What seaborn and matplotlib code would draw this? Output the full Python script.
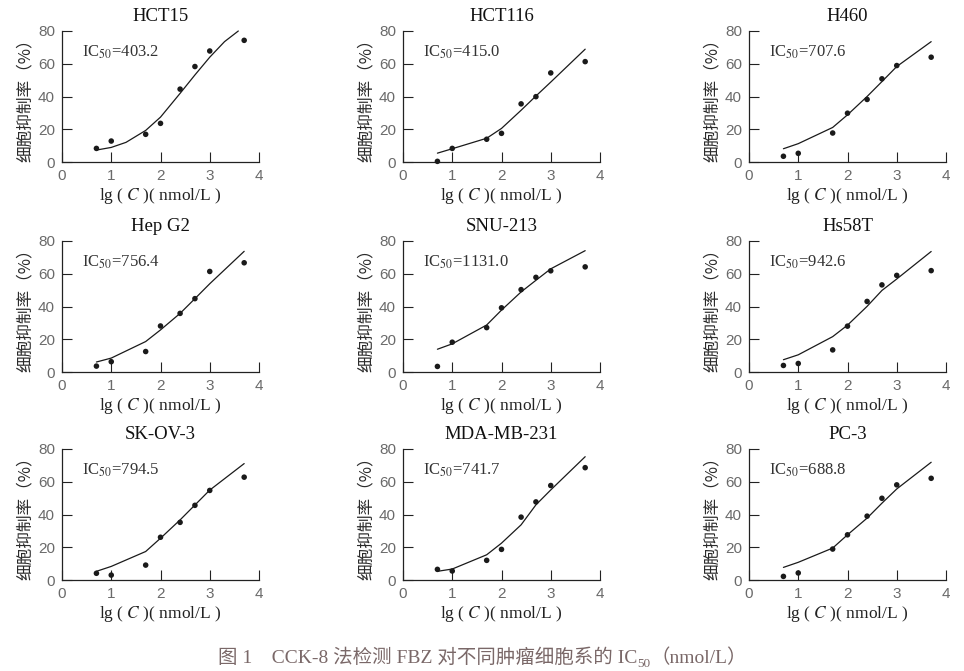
import matplotlib
matplotlib.use("Agg")
import pandas as pd
import matplotlib.pyplot as plt
import seaborn as sns

# -----------------------------
# data
# -----------------------------
lg_conc = [0.699, 1.0, 1.699, 2.0, 2.398, 2.699, 3.0, 3.699]

cell_lines = ["HCT15", "HCT116", "H460", "Hep G2", "SNU-213", "Hs58T",
              "SK-OV-3", "MDA-MB-231", "PC-3"]
ic50_values = ["403.2", "415.0", "707.6", "756.4", "1131.0", "942.6",
               "794.5", "741.7", "688.8"]

# measured inhibition rate (%)
inhib_hct15 = [8.3, 12.8, 16.9, 23.6, 44.5, 58.3, 67.8, 74.3]
inhib_hct116 = [0.4, 8.3, 13.9, 17.5, 35.5, 39.9, 54.4, 61.3]
inhib_h460 = [3.5, 5.3, 17.7, 29.8, 38.2, 50.8, 58.9, 64.0]
inhib_hepg2 = [3.6, 6.3, 12.5, 28.1, 35.8, 44.8, 61.4, 66.7]
inhib_snu213 = [3.4, 18.2, 27.1, 39.2, 50.3, 57.8, 61.8, 64.2]
inhib_hs58t = [4.0, 5.2, 13.5, 28.0, 43.1, 53.2, 59.0, 61.9]
inhib_skov3 = [4.1, 3.0, 9.1, 26.1, 35.2, 45.6, 54.7, 62.8]
inhib_mda231 = [6.5, 5.5, 12.0, 18.7, 38.4, 47.7, 57.7, 68.6]
inhib_pc3 = [2.2, 4.3, 18.9, 27.6, 39.0, 49.9, 58.1, 62.1]

# fitted curves
fit_x_hct15 = [0.7, 1.0, 1.3, 1.7, 2.0, 2.4, 2.7, 3.0, 3.3, 3.58]
fit_hct15 = [7.3, 8.9, 12.0, 19.3, 27.4, 42.0, 53.2, 64.0, 73.5, 80.0]
fit_hct116 = [5.4, 8.1, 14.5, 20.5, 31.6, 40.3, 48.8, 68.9]
fit_h460 = [8.1, 11.2, 21.1, 28.8, 40.0, 49.1, 58.3, 73.5]
fit_hepg2 = [6.1, 8.5, 18.6, 25.7, 35.8, 44.8, 53.9, 73.7]
fit_snu213 = [13.9, 17.2, 28.7, 37.8, 48.9, 56.0, 63.0, 74.1]
fit_hs58t = [7.5, 10.5, 21.6, 28.6, 40.1, 49.8, 56.8, 73.6]
fit_skov3 = [5.3, 8.3, 17.4, 25.5, 36.7, 45.8, 54.9, 71.1]
fit_mda231 = [5.3, 6.7, 15.4, 22.5, 33.7, 45.9, 55.0, 75.3]
fit_pc3 = [7.7, 10.8, 19.5, 27.6, 37.8, 46.9, 55.6, 71.9]

points = [inhib_hct15, inhib_hct116, inhib_h460, inhib_hepg2, inhib_snu213,
          inhib_hs58t, inhib_skov3, inhib_mda231, inhib_pc3]
fits = [fit_hct15, fit_hct116, fit_h460, fit_hepg2, fit_snu213,
        fit_hs58t, fit_skov3, fit_mda231, fit_pc3]
fit_xs = [fit_x_hct15] + [lg_conc] * 8

x_ticks = [0, 1, 2, 3, 4]
y_ticks = [0, 20, 40, 60, 80]

# -----------------------------
# style
# -----------------------------
sns.set_theme(style="ticks")
plt.rcParams['font.family'] = ['Liberation Serif', 'Noto Sans CJK SC', 'DejaVu Sans']
plt.rcParams['mathtext.fontset'] = 'stix'

W, H = 964, 671
fig = plt.figure(figsize=(W / 100, H / 100), dpi=100)
fig.patch.set_facecolor("white")

col_left = [62, 403, 749]      # px of x=0
row_base = [162, 372, 580]     # px of y=0
ax_w, ax_h = 197, 131

for i, name in enumerate(cell_lines):
    r, c = divmod(i, 3)
    ax = fig.add_axes([col_left[c] / W, (H - row_base[r]) / H, ax_w / W, ax_h / H])
    df = pd.DataFrame({"x": lg_conc, "y": points[i]})
    fit_df = pd.DataFrame({"x": fit_xs[i], "y": fits[i]})
    sns.lineplot(data=fit_df, x="x", y="y", ax=ax, color="#1a1a1a",
                 linewidth=0.9, sort=False, clip_on=False)
    sns.scatterplot(data=df, x="x", y="y", ax=ax, color="#1a1a1a", s=16,
                    edgecolor="none", clip_on=False, zorder=3)

    ax.set_xlim(0, 4)
    ax.set_ylim(0, 80)
    ax.set_xticks(x_ticks)
    ax.set_yticks(y_ticks)
    ax.tick_params(direction="in", length=7, width=0.8, color="#222",
                   labelsize=11, labelcolor="#6a6a6a", pad=5)
    for lab in ax.get_xticklabels() + ax.get_yticklabels():
        lab.set_fontfamily("Liberation Sans")
    sns.despine(ax=ax)
    for sp in ("left", "bottom"):
        ax.spines[sp].set_linewidth(0.9)
        ax.spines[sp].set_color("#222")

    ax.set_title(name, fontsize=13.5, color="#111", pad=7)
    ax.set_xlabel("lg ( $C$ )( nmol/L )", fontsize=12.5, color="#222", labelpad=2)
    ax.set_ylabel("细胞抑制率（%）", fontsize=12, color="#2a2a2a",
                  family=["Noto Sans CJK SC"], fontweight="medium", labelpad=3)
    ax.text(0.4, 67, "IC$_{50}$=" + ic50_values[i], fontsize=12, color="#333",
            va="center", ha="left")

# caption in three pieces so the CJK text and the subscript both render
cap_kw = dict(fontsize=14, color="#7a6868", va="baseline",
              family=["Liberation Serif", "Noto Sans CJK SC", "DejaVu Sans"])
cap_parts = ["图 1　CCK-8 法检测 FBZ 对不同肿瘤细胞系的 IC", "50", "（nmol/L）"]
cap_y = H - 663
renderer = fig.canvas.get_renderer()
t1 = fig.text(0, cap_y / H, cap_parts[0], **cap_kw)
t2 = fig.text(0, (cap_y - 4) / H, cap_parts[1], **{**cap_kw, "fontsize": 9.5})
t3 = fig.text(0, cap_y / H, cap_parts[2], **cap_kw)
w1 = t1.get_window_extent(renderer).width
w2 = t2.get_window_extent(renderer).width
w3 = t3.get_window_extent(renderer).width
x0 = (W - (w1 + w2 + w3)) / 2
t1.set_x(x0 / W)
t2.set_x((x0 + w1) / W)
t3.set_x((x0 + w1 + w2) / W)

fig.savefig("out.png", dpi=100, facecolor="white")
